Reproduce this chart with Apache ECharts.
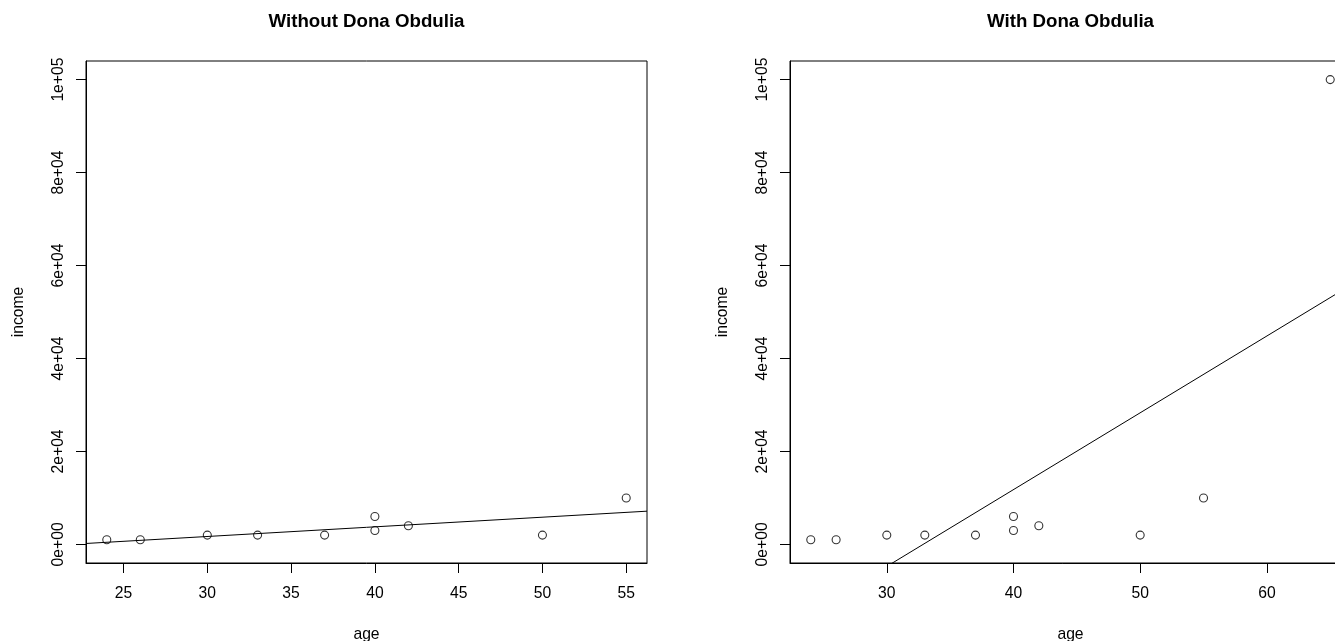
<!DOCTYPE html>
<html>
<head>
<meta charset="utf-8">
<script src="https://cdn.jsdelivr.net/npm/echarts@6/dist/echarts.min.js"></script>
<style>
html,body{margin:0;padding:0;background:#fff;}
#chart{width:1335px;height:641px;}
</style>
</head>
<body>
<div id="chart"></div>
<script>
// ---- data ----
const ages = [24, 26, 30, 33, 37, 40, 40, 42, 50, 55];
const incomes = [1000, 1000, 2000, 2000, 2000, 3000, 6000, 4000, 2000, 10000];
const obduliaAge = [65];
const obduliaIncome = [100000];
const xTicksLeft = [25, 30, 35, 40, 45, 50, 55];
const xTicksRight = [30, 40, 50, 60];
const yTicks = [0, 20000, 40000, 60000, 80000, 100000];
const yTickLabels = ['0e+00', '2e+04', '4e+04', '6e+04', '8e+04', '1e+05'];
const titles = ['Without Dona Obdulia', 'With Dona Obdulia'];
const ylim = [0, 100000];

// ---- helpers ----
function extRange(arr) {
  const lo = Math.min.apply(null, arr), hi = Math.max.apply(null, arr);
  const d = (hi - lo) * 0.04;
  return [lo - d, hi + d];
}
function lm(x, y) {
  const n = x.length;
  const mx = x.reduce((a, b) => a + b, 0) / n;
  const my = y.reduce((a, b) => a + b, 0) / n;
  let sxx = 0, sxy = 0;
  for (let i = 0; i < n; i++) { sxx += (x[i] - mx) * (x[i] - mx); sxy += (x[i] - mx) * (y[i] - my); }
  const b = sxy / sxx;
  return { a: my - b * mx, b: b };
}

const agesAll = ages.concat(obduliaAge);
const incomesAll = incomes.concat(obduliaIncome);
const xr1 = extRange(ages);
const xr2 = extRange(agesAll);
const yr = extRange(ylim);
const fit1 = lm(ages, incomes);
const fit2 = lm(agesAll, incomesAll);

const FONT = '"Liberation Sans", Arial, Helvetica, sans-serif';
const TICK_FS = 15.7;

function xAxisCfg(idx, range, ticks) {
  return {
    type: 'value', gridIndex: idx, min: range[0], max: range[1], position: 'bottom',
    name: 'age', nameLocation: 'middle', nameGap: 64,
    nameTextStyle: { color: '#000', fontSize: TICK_FS, fontFamily: FONT },
    axisLine: { show: true, onZero: false, lineStyle: { color: '#000', width: 1 } },
    axisTick: { show: true, length: 10, customValues: ticks, lineStyle: { color: '#000', width: 1 } },
    axisLabel: { show: true, customValues: ticks, margin: 23, color: '#000', fontSize: TICK_FS, fontFamily: FONT,
      formatter: v => String(v) },
    splitLine: { show: false }
  };
}
function yAxisCfg(idx) {
  return {
    type: 'value', gridIndex: idx, min: yr[0], max: yr[1], position: 'left',
    name: 'income', nameLocation: 'middle', nameGap: 59, nameRotate: 90,
    nameTextStyle: { color: '#000', fontSize: TICK_FS, fontFamily: FONT },
    axisLine: { show: true, onZero: false, lineStyle: { color: '#000', width: 1 } },
    axisTick: { show: true, length: 10, customValues: yTicks, lineStyle: { color: '#000', width: 1 } },
    axisLabel: { show: true, customValues: yTicks, rotate: 90, margin: 19, color: '#000', fontSize: TICK_FS, fontFamily: FONT,
      formatter: v => { const i = yTicks.indexOf(Math.round(v)); return i >= 0 ? yTickLabels[i] : ''; } },
    splitLine: { show: false }
  };
}

const grids = [
  { left: 86, top: 61, width: 561, height: 502 },
  { left: 790, top: 61, width: 561, height: 502 }
];

const chart = echarts.init(document.getElementById('chart'), null, { renderer: 'canvas' });
chart.setOption({
  animation: false,
  backgroundColor: '#fff',
  grid: grids.map(g => Object.assign({ show: true, borderColor: '#000', borderWidth: 1, backgroundColor: 'transparent', outerBoundsMode: 'none', containLabel: false }, g)),
  xAxis: [xAxisCfg(0, xr1, xTicksLeft), xAxisCfg(1, xr2, xTicksRight)],
  yAxis: [yAxisCfg(0), yAxisCfg(1)],
  graphic: titles.map((t, i) => ({
    type: 'text', x: grids[i].left + grids[i].width / 2, y: 21.7,
    style: { text: t, fill: '#000', font: 'bold 18.7px ' + FONT, textAlign: 'center', textVerticalAlign: 'middle' }
  })),
  series: [
    {
      type: 'scatter', xAxisIndex: 0, yAxisIndex: 0,
      data: ages.map((a, i) => [a, incomes[i]]),
      symbol: 'circle', symbolSize: 8,
      itemStyle: { color: 'rgba(0,0,0,0)', borderColor: '#000', borderWidth: 1.1 },
      z: 3
    },
    {
      type: 'line', xAxisIndex: 0, yAxisIndex: 0, clip: true,
      data: [[xr1[0], fit1.a + fit1.b * xr1[0]], [xr1[1], fit1.a + fit1.b * xr1[1]]],
      symbol: 'none', lineStyle: { color: '#000', width: 1 }, silent: true, z: 2
    },
    {
      type: 'scatter', xAxisIndex: 1, yAxisIndex: 1,
      data: agesAll.map((a, i) => [a, incomesAll[i]]),
      symbol: 'circle', symbolSize: 8,
      itemStyle: { color: 'rgba(0,0,0,0)', borderColor: '#000', borderWidth: 1.1 },
      z: 3
    },
    {
      type: 'line', xAxisIndex: 1, yAxisIndex: 1, clip: true,
      data: [[xr2[0], fit2.a + fit2.b * xr2[0]], [xr2[1], fit2.a + fit2.b * xr2[1]]],
      symbol: 'none', lineStyle: { color: '#000', width: 1 }, silent: true, z: 2
    }
  ]
});
</script>
</body>
</html>
